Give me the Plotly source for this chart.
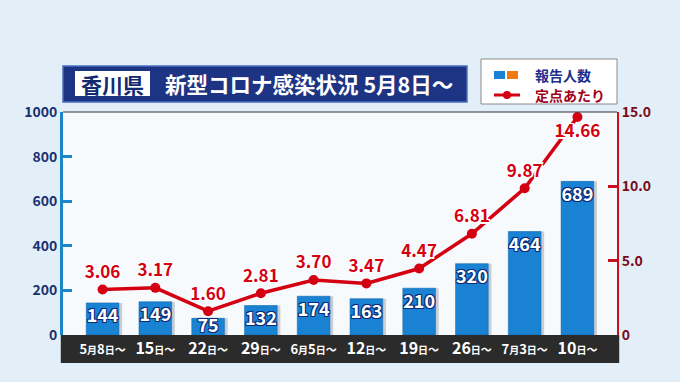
import plotly.graph_objects as go

categories = ["5月8日～", "15日～", "22日～", "29日～", "6月5日～", "12日～", "19日～", "26日～", "7月3日～", "10日～"]
reports = [144, 149, 75, 132, 174, 163, 210, 320, 464, 689]
per_site = [3.06, 3.17, 1.60, 2.81, 3.70, 3.47, 4.47, 6.81, 9.87, 14.66]
left_ticks = [0, 200, 400, 600, 800, 1000]
right_ticks = [0, 5, 10, 15]
right_ticklabels = ["0", "5.0", "10.0", "15.0"]
title_pref = "香川県"
title_main = "新型コロナ感染状況 5月8日～"
legend_bar = "報告人数"
legend_line = "定点あたり"

FONT = "Noto Sans CJK JP"
NAVY = "#1b2f6e"
BLUE = "#1a82d2"
RED = "#d40012"
DARKRED = "#7a0a18"


def small_units(s):
    long = "月" in s
    dsize = 13 if long else 16
    out = ""
    for ch in s:
        if ch in "月日":
            out += f"<span style='font-size:10px'>{ch}</span>"
        elif ch == "～":
            out += f"<span style='font-size:11px'>{ch}</span>"
        else:
            out += f"<span style='font-size:{dsize}px'>{ch}</span>"
    return out


ticktext = [small_units(c) for c in categories]
idx = list(range(len(categories)))
BW = 0.62
# label offset (invisible marker size): short bars keep their label right at the top
label_pad = [8 if v >= 100 else 0 for v in reports]

fig = go.Figure()

# bar shadow
fig.add_trace(go.Bar(
    x=idx, y=reports, width=BW, offset=-BW / 2 + 0.06,
    marker=dict(color="#c9ced4", line=dict(width=0)),
    showlegend=False, yaxis="y", hoverinfo="skip",
))
fig.add_trace(go.Bar(
    x=idx, y=reports, width=BW, offset=-BW / 2,
    marker=dict(color=BLUE, line=dict(color="#0f63a8", width=0.5)),
    showlegend=False, yaxis="y", hoverinfo="skip",
))
# bar value labels
fig.add_trace(go.Scatter(
    x=idx, y=reports, mode="markers+text",
    marker=dict(size=label_pad, opacity=0),
    text=[str(v) for v in reports], textposition="bottom center",
    textfont=dict(family=FONT, size=18, color="white", weight="bold",
                  shadow="-1px -1px 0 #0b2a7a, 1px -1px 0 #0b2a7a, -1px 1px 0 #0b2a7a, 1px 1px 0 #0b2a7a"),
    cliponaxis=False, showlegend=False, yaxis="y", hoverinfo="skip",
))

positions = ["top center"] * (len(per_site) - 1) + ["bottom center"]
fig.add_trace(go.Scatter(
    x=idx, y=per_site, mode="lines+markers+text",
    line=dict(color=RED, width=3.5),
    marker=dict(color=RED, size=10),
    text=[f"{v:.2f}" for v in per_site],
    textposition=positions,
    textfont=dict(family=FONT, size=17, color=RED, weight="bold",
                  shadow="-1.5px -1.5px 0 #fff, 1.5px -1.5px 0 #fff, -1.5px 1.5px 0 #fff, 1.5px 1.5px 0 #fff"),
    cliponaxis=False, showlegend=False, yaxis="y2", hoverinfo="skip",
))

shapes = [
    dict(type="rect", xref="paper", yref="paper", x0=-0.004, x1=1.004, y0=-0.126, y1=0,
         fillcolor="#2b2b2b", line=dict(width=0), layer="below"),
    dict(type="line", xref="paper", yref="paper", x0=0, x1=1, y0=1, y1=1,
         line=dict(color="#333333", width=1.2)),
    dict(type="rect", xref="paper", yref="paper",
         x0=0, x1=(467 - 63) / 554, y0=1 + (112 - 102) / 223, y1=1 + (112 - 66) / 223,
         fillcolor="#1c3483", line=dict(color="#4a6fc0", width=1.5)),
    dict(type="rect", xref="paper", yref="paper",
         x0=(75 - 63) / 554, x1=(150 - 63) / 554, y0=1 + (112 - 96) / 223, y1=1 + (112 - 71) / 223,
         fillcolor="white", line=dict(width=0)),
    dict(type="rect", xref="paper", yref="paper",
         x0=(481 - 63) / 554, x1=(617 - 63) / 554, y0=1 + (112 - 104) / 223, y1=1 + (112 - 59) / 223,
         fillcolor="white", line=dict(color="#8a8a8a", width=1)),
    dict(type="rect", xref="paper", yref="paper",
         x0=(494 - 63) / 554, x1=(505 - 63) / 554, y0=1 + (112 - 79) / 223, y1=1 + (112 - 71) / 223,
         fillcolor="#1a82d2", line=dict(width=0)),
    dict(type="rect", xref="paper", yref="paper",
         x0=(507 - 63) / 554, x1=(518 - 63) / 554, y0=1 + (112 - 79) / 223, y1=1 + (112 - 71) / 223,
         fillcolor="#f07a10", line=dict(width=0)),
    dict(type="line", xref="paper", yref="paper",
         x0=(494 - 63) / 554, x1=(520 - 63) / 554, y0=1 + (112 - 95) / 223, y1=1 + (112 - 95) / 223,
         line=dict(color=RED, width=3)),
    dict(type="circle", xref="paper", yref="paper",
         x0=(503 - 63) / 554, x1=(511 - 63) / 554, y0=1 + (112 - 99) / 223, y1=1 + (112 - 91) / 223,
         fillcolor=RED, line=dict(width=0)),
]

annotations = [
    dict(xref="paper", yref="paper", x=(112.5 - 63) / 554, y=1 + (112 - 83.5) / 223,
         text=f"<b>{title_pref}</b>", showarrow=False, xanchor="center", yanchor="middle",
         font=dict(family=FONT, size=21, color="#132a6e")),
    dict(xref="paper", yref="paper", x=(163 - 63) / 554, y=1 + (112 - 83.5) / 223,
         text=f"<b>{title_main}</b>", showarrow=False, xanchor="left", yanchor="middle",
         font=dict(family=FONT, size=21.5, color="white")),
    dict(xref="paper", yref="paper", x=(533 - 63) / 554, y=1 + (112 - 75) / 223,
         text=f"<b>{legend_bar}</b>", showarrow=False, xanchor="left", yanchor="middle",
         font=dict(family=FONT, size=14, color="#1b2f8e")),
    dict(xref="paper", yref="paper", x=(533 - 63) / 554, y=1 + (112 - 95) / 223,
         text=f"<b>{legend_line}</b>", showarrow=False, xanchor="left", yanchor="middle",
         font=dict(family=FONT, size=14, color="#a00018")),
]

fig.update_layout(
    width=680, height=382,
    margin=dict(l=63, r=63, t=112, b=47, autoexpand=False),
    paper_bgcolor="#e2eff8",
    plot_bgcolor="#f6fafd",
    shapes=shapes, annotations=annotations,
    hovermode=False, barmode="overlay",
    xaxis=dict(
        tickvals=idx, ticktext=ticktext, range=[-0.75, 9.75],
        showgrid=False, zeroline=False, showline=False, ticks="",
        tickangle=0, automargin=False,
        tickfont=dict(family=FONT, size=16, color="white", weight="bold"),
        ticklabelstandoff=2,
    ),
    yaxis=dict(
        range=[0, 1000], tickvals=left_ticks, ticktext=[str(t) for t in left_ticks],
        showgrid=False, zeroline=False, showline=True, linecolor="#1a86c8", linewidth=3,
        ticks="inside", ticklen=9, tickwidth=3, tickcolor="#1a86c8", automargin=False,
        tickfont=dict(family=FONT, size=14, color=NAVY, weight="bold"),
    ),
    yaxis2=dict(
        range=[0, 15], tickvals=right_ticks, ticktext=right_ticklabels,
        overlaying="y", side="right",
        showgrid=False, zeroline=False, showline=True, linecolor="#c8101e", linewidth=2,
        ticks="inside", ticklen=9, tickwidth=3, tickcolor="#c8101e", automargin=False,
        tickfont=dict(family=FONT, size=14, color=DARKRED, weight="bold"),
    ),
)

fig.write_html("out.html", config={"displayModeBar": False},
               post_script="document.body.style.margin='0';")
